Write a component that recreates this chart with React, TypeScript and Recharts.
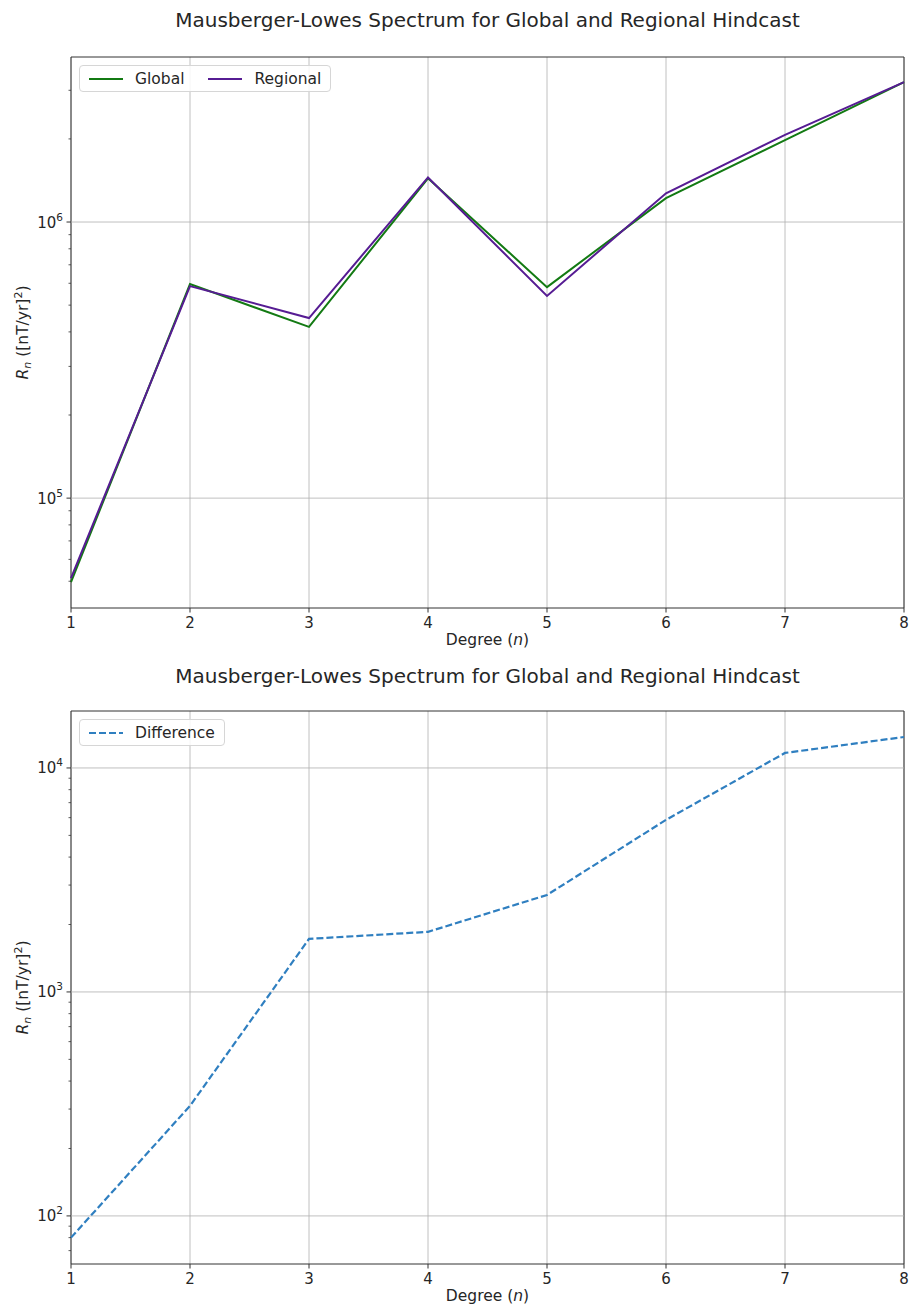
import { LineChart, Line, XAxis, YAxis, CartesianGrid, ReferenceLine, ReferenceArea } from "recharts"

const degrees = [1, 2, 3, 4, 5, 6, 7, 8]
const globalValues = [49600, 596000, 417000, 1440000, 581000, 1220000, 1980000, 3210000]
const regionalValues = [51300, 586000, 449000, 1450000, 540000, 1270000, 2070000, 3210000]
const differenceValues = [80, 310, 1725, 1855, 2710, 5865, 11670, 13750]

const topMajor = [1e5, 1e6]
const topMinor = [5e4, 6e4, 7e4, 8e4, 9e4, 2e5, 3e5, 4e5, 5e5, 6e5, 7e5, 8e5, 9e5, 2e6, 3e6]
const bottomMajor = [1e2, 1e3, 1e4]
const bottomMinor = [7e1, 8e1, 9e1, 2e2, 3e2, 4e2, 5e2, 6e2, 7e2, 8e2, 9e2, 2e3, 3e3, 4e3, 5e3, 6e3, 7e3, 8e3, 9e3]

const TITLE = "Mausberger-Lowes Spectrum for Global and Regional Hindcast"
const FONT = "DejaVu Sans, sans-serif"
const TEXT = "#262626"
const GREEN = "#137a13"
const PURPLE = "#561c93"
const BLUE = "#2f7fc0"

const topData = degrees.map((n, i) => ({ n, global: globalValues[i], regional: regionalValues[i] }))
const bottomData = degrees.map((n, i) => ({ n, diff: differenceValues[i] }))

const AXIS_X = 71

function LogTick(props: any) {
    const { y, payload, major } = props
    const v = payload.value
    if (!major.includes(v)) {
        return <line x1={AXIS_X - 2.5} x2={AXIS_X} y1={y} y2={y} stroke="#333" strokeWidth={0.8} />
    }
    const exp = Math.round(Math.log10(v))
    return (
        <g>
            <line x1={AXIS_X - 4.5} x2={AXIS_X} y1={y} y2={y} stroke="#333" strokeWidth={1} />
            <text x={AXIS_X - 8} y={y + 5.5} textAnchor="end" fontFamily={FONT} fontSize={15} fill={TEXT}>
                10<tspan dy={-7} fontSize={10.5}>{exp}</tspan>
            </text>
        </g>
    )
}

function XTick(props: any) {
    const { x, y, payload } = props
    return (
        <g>
            <line x1={x} x2={x} y1={y} y2={y + 4.5} stroke="#333" strokeWidth={1} />
            <text x={x} y={y + 20} textAnchor="middle" fontFamily={FONT} fontSize={15} fill={TEXT}>
                {payload.value}
            </text>
        </g>
    )
}

function YLabel(props: any) {
    const { viewBox } = props
    const cy = viewBox.y + viewBox.height / 2
    return (
        <text x={28} y={cy} transform={`rotate(-90 28 ${cy})`} textAnchor="middle" fontFamily={FONT} fontSize={15.5} fill={TEXT}>
            <tspan fontStyle="italic">R</tspan>
            <tspan fontStyle="italic" fontSize={11} dy={3}>n</tspan>
            <tspan dy={-3}> ([nT/yr]</tspan>
            <tspan fontSize={11} dy={-6}>2</tspan>
            <tspan dy={6}>)</tspan>
        </text>
    )
}

function XLabel(props: any) {
    const { viewBox } = props
    const cx = viewBox.x + viewBox.width / 2
    return (
        <text x={cx} y={viewBox.y + 37} textAnchor="middle" fontFamily={FONT} fontSize={15.5} fill={TEXT}>
            Degree (<tspan fontStyle="italic">n</tspan>)
        </text>
    )
}

function LegendBox({ items, top }: { items: any[]; top: number }) {
    return (
        <div style={{
            position: "absolute", left: 79, top, height: 27, boxSizing: "border-box",
            display: "flex", gap: 24, alignItems: "center", background: "rgba(255,255,255,0.85)",
            border: "1px solid #d6d6d6", borderRadius: 4, padding: "0 9px", fontFamily: FONT, fontSize: 15.5, color: TEXT,
        }}>
            {items.map((it: any) => (
                <div key={it.label} style={{ display: "flex", alignItems: "center", gap: 12 }}>
                    <svg width={34} height={10}>
                        <line x1={0} x2={34} y1={5} y2={5} stroke={it.color} strokeWidth={2} strokeDasharray={it.dash} />
                    </svg>
                    <span>{it.label}</span>
                </div>
            ))}
        </div>
    )
}

function Title({ top }: { top: number }) {
    return (
        <div style={{
            position: "absolute", left: AXIS_X, width: 833, top, textAlign: "center",
            fontFamily: FONT, fontSize: 20, color: TEXT,
        }}>{TITLE}</div>
    )
}

export default function App() {
    const topDomain = [40000, 3960000]
    const bottomDomain = [61, 17960]
    return (
        <div style={{ position: "absolute", left: 0, top: 0, width: 909, height: 1307, background: "#fff" }}>
            <div style={{ position: "absolute", left: 0, top: 0 }}>
                <LineChart width={909} height={651} data={topData} margin={{ top: 57, right: 5, left: 0, bottom: 0 }}>
                    <CartesianGrid horizontal={false} stroke="#b0b0b0" strokeWidth={0.8} />
                    {topMajor.map((v) => (
                        <ReferenceLine key={v} y={v} stroke="#b0b0b0" strokeWidth={0.8} />
                    ))}
                    <XAxis dataKey="n" type="number" domain={[1, 8]} ticks={degrees} height={43} tickSize={0} tickMargin={0}
                        axisLine={false} tickLine={false} tick={<XTick />} label={<XLabel />} />
                    <YAxis type="number" scale="log" domain={topDomain} allowDataOverflow width={71}
                        ticks={[...topMinor, ...topMajor].sort((a, b) => a - b)} interval={0}
                        axisLine={false} tickLine={false} tick={<LogTick major={topMajor} />} label={<YLabel />} />
                    <ReferenceArea x1={1} x2={8} y1={topDomain[0]} y2={topDomain[1]} fill="none" stroke="#333" strokeWidth={1} ifOverflow="extendDomain" />
                    <Line dataKey="global" stroke={GREEN} strokeWidth={2} dot={false} isAnimationActive={false} />
                    <Line dataKey="regional" stroke={PURPLE} strokeWidth={2} dot={false} isAnimationActive={false} />
                </LineChart>
            </div>
            <Title top={8} />
            <LegendBox top={65} items={[{ label: "Global", color: GREEN }, { label: "Regional", color: PURPLE }]} />
            <div style={{ position: "absolute", left: 0, top: 654 }}>
                <LineChart width={909} height={653} data={bottomData} margin={{ top: 57, right: 5, left: 0, bottom: 0 }}>
                    <CartesianGrid horizontal={false} stroke="#b0b0b0" strokeWidth={0.8} />
                    {bottomMajor.map((v) => (
                        <ReferenceLine key={v} y={v} stroke="#b0b0b0" strokeWidth={0.8} />
                    ))}
                    <XAxis dataKey="n" type="number" domain={[1, 8]} ticks={degrees} height={43} tickSize={0} tickMargin={0}
                        axisLine={false} tickLine={false} tick={<XTick />} label={<XLabel />} />
                    <YAxis type="number" scale="log" domain={bottomDomain} allowDataOverflow width={71}
                        ticks={[...bottomMinor, ...bottomMajor].sort((a, b) => a - b)} interval={0}
                        axisLine={false} tickLine={false} tick={<LogTick major={bottomMajor} />} label={<YLabel />} />
                    <ReferenceArea x1={1} x2={8} y1={bottomDomain[0]} y2={bottomDomain[1]} fill="none" stroke="#333" strokeWidth={1} ifOverflow="extendDomain" />
                    <Line dataKey="diff" stroke={BLUE} strokeWidth={2.2} strokeDasharray="7 3" dot={false} isAnimationActive={false} />
                </LineChart>
            </div>
            <Title top={664} />
            <LegendBox top={719} items={[{ label: "Difference", color: BLUE, dash: "7 3" }]} />
        </div>
    )
}
